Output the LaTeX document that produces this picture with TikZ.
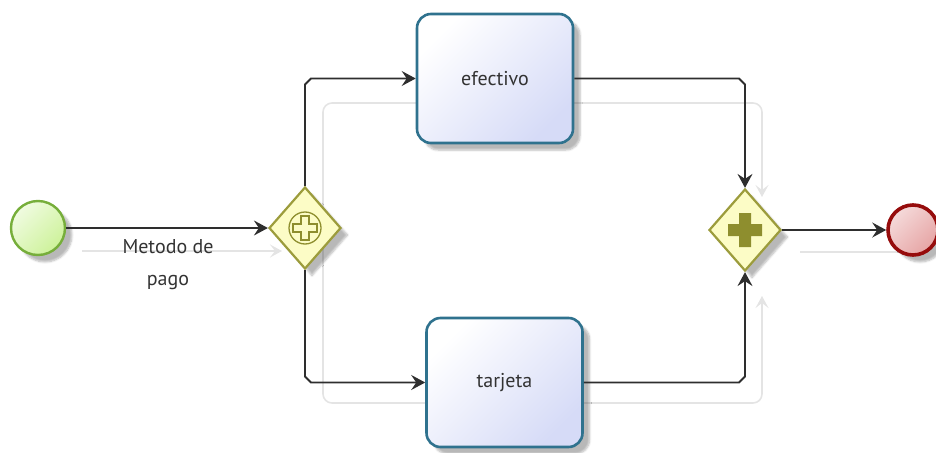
\documentclass[tikz,border=0pt]{standalone}
\usepackage{fontspec}
\setmainfont{PT Sans}
\usetikzlibrary{shapes.geometric,arrows.meta,calc,shadows.blur}

\definecolor{flowgray}{HTML}{2E2E2E}
\definecolor{ghostgray}{HTML}{E4E4E4}
\definecolor{taskedge}{HTML}{2F728E}
\definecolor{taskfill}{HTML}{D6DBF7}
\definecolor{gwedge}{HTML}{9C9C3C}
\definecolor{gwfill}{HTML}{FCFCC6}
\definecolor{gwmark}{HTML}{8E8E2E}
\definecolor{startedge}{HTML}{76AE3A}
\definecolor{startfill}{HTML}{CDF29A}
\definecolor{endedge}{HTML}{960C0C}
\definecolor{endfill}{HTML}{E6A4A4}
\definecolor{labeltext}{HTML}{333333}

\tikzset{
  softshadow/.style={blur shadow={shadow xshift=7pt, shadow yshift=-7pt,
      shadow blur steps=6, shadow opacity=28}},
  task/.style={rectangle, rounded corners=14pt, draw=taskedge, line width=2.6pt,
      top color=white, bottom color=taskfill, shading angle=45,
      minimum width=156pt, minimum height=129pt, inner sep=0pt,
      font=\fontsize{20}{24}\selectfont, text=labeltext, softshadow},
  gateway/.style={diamond, draw=gwedge, line width=2.2pt, fill=gwfill,
      minimum width=72pt, minimum height=82pt, inner sep=0pt, softshadow},
  startev/.style={circle, draw=startedge, line width=2.4pt,
      top color=white!70!startfill, bottom color=startfill, shading angle=45,
      minimum size=54pt, inner sep=0pt, softshadow},
  endev/.style={circle, draw=endedge, line width=3.6pt,
      top color=white!60!endfill, bottom color=endfill, shading angle=45,
      minimum size=50pt, inner sep=0pt, softshadow},
  flow/.style={draw=flowgray, line width=1.8pt,
      -{Stealth[length=14pt, width=15pt, inset=5pt]}},
  ghost/.style={draw=ghostgray, line width=1.6pt, rounded corners=9pt},
  ghostarrow/.style={ghost, -{Stealth[length=12pt, width=13pt, inset=5pt]}},
  flowlabel/.style={font=\fontsize{20}{32}\selectfont, text=labeltext,
      align=center, inner sep=0pt},
}

\begin{document}
\begin{tikzpicture}[x=1pt, y=-1pt]
  \useasboundingbox (0,0) rectangle (936,452);

  % faint offset traces of the sequence flows
  \coordinate (gl) at (323,230);
  \coordinate (gtop) at (762,197);
  \coordinate (gbot) at (762,296);
  \coordinate (gsa) at (82,251);
  \coordinate (gsb) at (282,251);
  \coordinate (gea) at (800,252);
  \coordinate (geb) at (905,252);
  \draw[ghostarrow] (gl) -- (323,103) -- (762,103) -- (gtop);
  \draw[ghostarrow] (gl) -- (323,403) -- (762,403) -- (gbot);
  \draw[ghostarrow] (gsa) -- (gsb);
  \draw[ghost] (gea) -- (geb);

  % events, gateways and tasks
  \node[startev] (start) at (38,228) {};
  \node[gateway] (split) at (305,228) {};
  \node[task] (efectivo) at (495,78.5) {efectivo};
  \node[task] (tarjeta) at (504.5,382.5) {tarjeta};
  \node[gateway] (join) at (745,230) {};
  \node[endev] (end) at (913,230) {};

  % parallel (event-based) marker of the split gateway
  \draw[gwmark, line width=1.3pt] (split.center) circle[radius=16pt];
  \draw[gwmark, line width=1.3pt, shift={(split.center)}]
    (-4,-12) -- (4,-12) -- (4,-4) -- (12,-4) -- (12,4) -- (4,4) -- (4,12)
    -- (-4,12) -- (-4,4) -- (-12,4) -- (-12,-4) -- (-4,-4) -- cycle;

  % parallel marker of the join gateway
  \fill[gwmark, shift={(join.center)}]
    (-6,-17) -- (6,-17) -- (6,-6) -- (17,-6) -- (17,6) -- (6,6) -- (6,17)
    -- (-6,17) -- (-6,6) -- (-17,6) -- (-17,-6) -- (-6,-6) -- cycle;

  % sequence flows
  \draw[flow] (start) -- (split);
  \node[flowlabel] (lbl) at (168,265) {Metodo de\\pago};

  \draw[flow] (split.north) -- ($(split.north |- efectivo.west)+(0,6)$)
    -- ($(split.north |- efectivo.west)+(6,0)$) -- (efectivo.west);
  \draw[flow] (split.south) -- ($(split.south |- tarjeta.west)+(0,-6)$)
    -- ($(split.south |- tarjeta.west)+(6,0)$) -- (tarjeta.west);

  \draw[flow] (efectivo.east) -- ($(join.north |- efectivo.east)+(-6,0)$)
    -- ($(join.north |- efectivo.east)+(0,6)$) -- (join.north);
  \draw[flow] (tarjeta.east) -- ($(join.south |- tarjeta.east)+(-6,0)$)
    -- ($(join.south |- tarjeta.east)+(0,-6)$) -- (join.south);

  \draw[flow] (join.east) -- (end.west);
\end{tikzpicture}
\end{document}
